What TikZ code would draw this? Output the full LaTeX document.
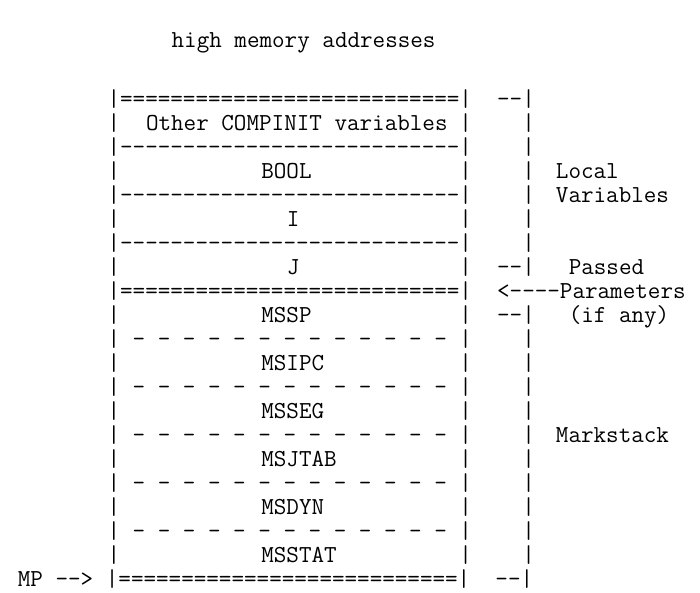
\documentclass[tikz,border=0pt]{standalone}
\usepackage{fontspec}
% repeat a character 9 and 27 times
\newcommand\rptnine[1]{#1#1#1#1#1#1#1#1#1}
\newcommand\rptall[1]{\rptnine{#1}\rptnine{#1}\rptnine{#1}}
\newcommand\rptgap{-~-~-~-~-~-~-~-~-~-~-~-~-~}
\begin{document}
\begin{tikzpicture}[x=1pt,y=-1pt,
  tt/.style={anchor=base west, inner sep=0pt, outer sep=0pt,
    font=\fontsize{24.4}{24}\selectfont\ttfamily\addfontfeature{FakeBold=0.9}}]
\useasboundingbox (0,0) rectangle (700,592);
\fill[white] (0,0) rectangle (700,592);
% column c starts at 107.6+12.81c, row r has its baseline at 106.5+24r
\newcommand\cellat[4]{\node[tt] (#1) at ({107.6+12.81*(#2)},{106.5+24*(#3)}) {#4};}
% title
\node[tt] (title) at ({107.6+12.81*5},47) {high~memory~addresses};
% frame rows
\cellat{r0}{0}{0}{|\rptall{=}|~~--|}
\cellat{r1}{0}{1}{|\rptall{~}|~~~~|}
\cellat{r2}{0}{2}{|\rptall{-}|~~~~|}
\cellat{r3}{0}{3}{|\rptall{~}|~~~~|}
\cellat{r4}{0}{4}{|\rptall{-}|~~~~|}
\cellat{r5}{0}{5}{|\rptall{~}|~~~~|}
\cellat{r6}{0}{6}{|\rptall{-}|~~~~|}
\cellat{r7}{0}{7}{|\rptall{~}|~~--|}
\cellat{r8}{0}{8}{|\rptall{=}|~~<----Parameters}
\cellat{r9}{0}{9}{|\rptall{~}|~~--|}
\cellat{r10}{0}{10}{|~\rptgap|~~~~|}
\cellat{r11}{0}{11}{|\rptall{~}|~~~~|}
\cellat{r12}{0}{12}{|~\rptgap|~~~~|}
\cellat{r13}{0}{13}{|\rptall{~}|~~~~|}
\cellat{r14}{0}{14}{|~\rptgap|~~~~|}
\cellat{r15}{0}{15}{|\rptall{~}|~~~~|}
\cellat{r16}{0}{16}{|~\rptgap|~~~~|}
\cellat{r17}{0}{17}{|\rptall{~}|~~~~|}
\cellat{r18}{0}{18}{|~\rptgap|~~~~|}
\cellat{r19}{0}{19}{|\rptall{~}|~~~~|}
\cellat{r20}{-7}{20}{MP~-->~|\rptall{=}|~~--|}
% cell contents
\cellat{other}{3}{1}{Other~COMPINIT~variables}
\cellat{bool}{12}{3}{BOOL}
\cellat{vi}{14}{5}{I}
\cellat{vj}{14}{7}{J}
\cellat{mssp}{12}{9}{MSSP}
\cellat{msipc}{12}{11}{MSIPC}
\cellat{msseg}{12}{13}{MSSEG}
\cellat{msjtab}{12}{15}{MSJTAB}
\cellat{msdyn}{12}{17}{MSDYN}
\cellat{msstat}{12}{19}{MSSTAT}
% side labels
\cellat{local}{35}{3}{Local}
\cellat{vars}{35}{4}{Variables}
\cellat{passed}{36}{7}{Passed}
\cellat{ifany}{36}{9}{(if~any)}
\cellat{mark}{35}{14}{Markstack}
\end{tikzpicture}
\end{document}
